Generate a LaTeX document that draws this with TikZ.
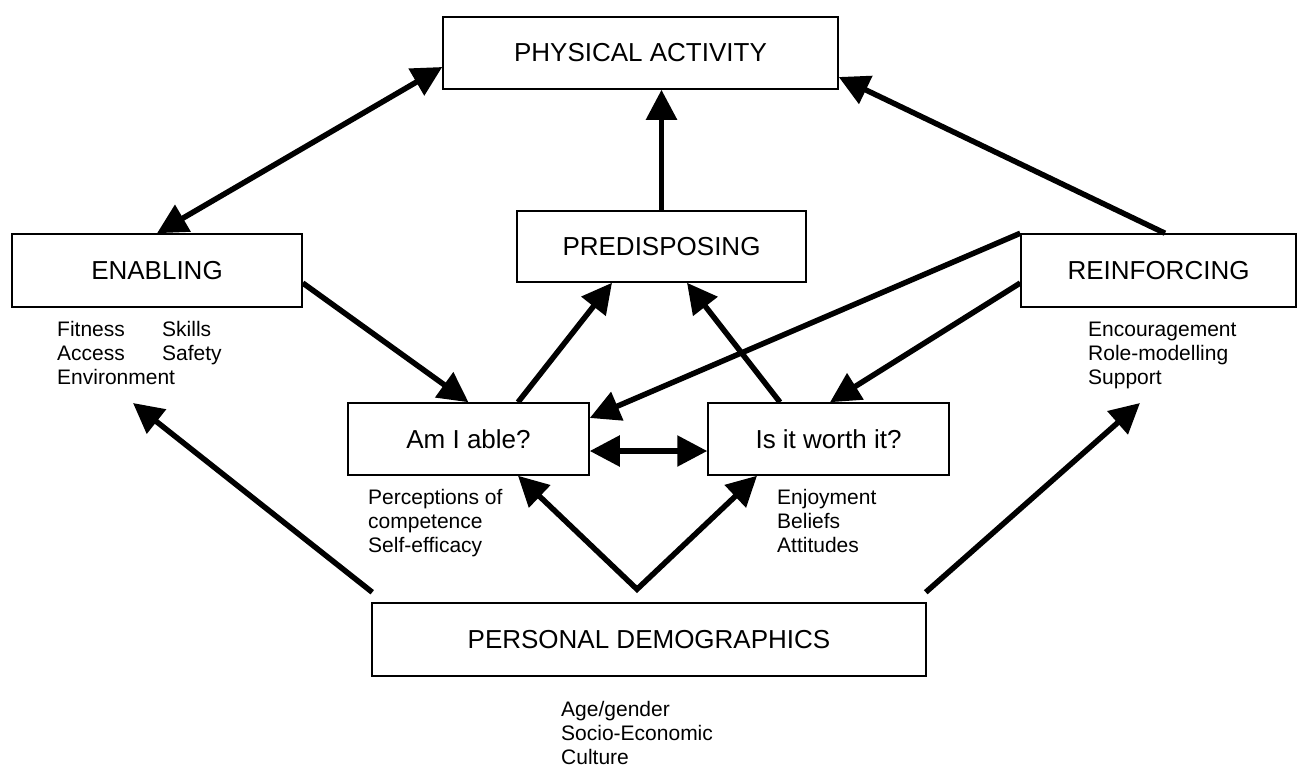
\documentclass[tikz,border=0pt]{standalone}
\usepackage{fontspec}
\setmainfont{Liberation Sans}
\usetikzlibrary{arrows.meta}
\begin{document}
\begin{tikzpicture}[x=1pt,y=-1pt,
  box/.style={draw,line width=1.5pt,minimum height=72pt,inner sep=0pt,font=\fontsize{26}{30}\selectfont},
  sub/.style={anchor=base west,align=left,inner sep=0pt,font=\fontsize{21}{24}\selectfont},
  conn/.style={line width=5.5pt,line join=miter,-{Triangle[length=30pt,width=30pt]}},
  dconn/.style={line width=5.5pt,line join=miter,{Triangle[length=30pt,width=30pt]}-{Triangle[length=30pt,width=30pt]}}]
\useasboundingbox (0,0) rectangle (1298,769);
% boxes
\node[box, minimum width=395pt] (pa) at (640.5,53) {PHYSICAL ACTIVITY};
\node[box, minimum width=290pt, minimum height=73pt] (en) at (157,270.5) {ENABLING};
\node[box, minimum width=289pt, minimum height=71pt] (pr) at (661.5,246.5) {PREDISPOSING};
\node[box, minimum width=275pt, minimum height=73pt] (re) at (1158.5,270.5) {REINFORCING};
\node[box, minimum width=241pt] (am) at (468.5,439) {Am I able?};
\node[box, minimum width=241pt] (iw) at (828.5,439) {Is it worth it?};
\node[box, minimum width=554pt, minimum height=73pt] (pd) at (649,639.5) {PERSONAL DEMOGRAPHICS};
% sub texts (base = baseline of the last line)
\node[sub] (ens) at (57,384) {\makebox[105pt][l]{Fitness}Skills\\\makebox[105pt][l]{Access}Safety\\Environment};
\node[sub] (res) at (1088,384) {Encouragement\\Role-modelling\\Support};
\node[sub] (ams) at (368,552) {Perceptions of\\competence\\Self-efficacy};
\node[sub] (iws) at (777,552) {Enjoyment\\Beliefs\\Attitudes};
\node[sub] (pds) at (561,764) {Age/gender\\Socio-Economic\\Culture};
% connectors
\draw[dconn] (en.north) -- ([yshift=-14pt]pa.west);
\draw[conn] (pr.north) -- (pr.north |- pa.south);
\draw[conn] ([xshift=6.5pt]re.north) -- ([yshift=-24pt]pa.east);
\draw[conn] ([yshift=-12.5pt]en.east) -- (am.north);
\draw[conn] ([xshift=49.5pt]am.north) -- ([xshift=-49.5pt]pr.south);
\draw[conn] ([xshift=-48.5pt]iw.north) -- ([xshift=25.5pt]pr.south);
\draw[conn] (re.north west) -- ([yshift=21pt]am.east);
\draw[conn] ([yshift=-12.5pt]re.west) -- ([xshift=1.5pt]iw.north);
\draw[dconn] ([yshift=-12pt]am.east) -- ([yshift=-12pt]iw.west);
\coordinate (apex) at ([xshift=-12pt,yshift=13pt]pd.north);
\draw[dconn] ([xshift=49.5pt]am.south) -- (apex) -- ([xshift=-71.5pt]iw.south);
\coordinate (enT) at (133,403);
\coordinate (reT) at (1140,403);
\draw[conn] ([xshift=1pt,yshift=10pt]pd.north west) -- (enT);
\draw[conn] ([xshift=-1pt,yshift=10pt]pd.north east) -- (reT);
\end{tikzpicture}
\end{document}
